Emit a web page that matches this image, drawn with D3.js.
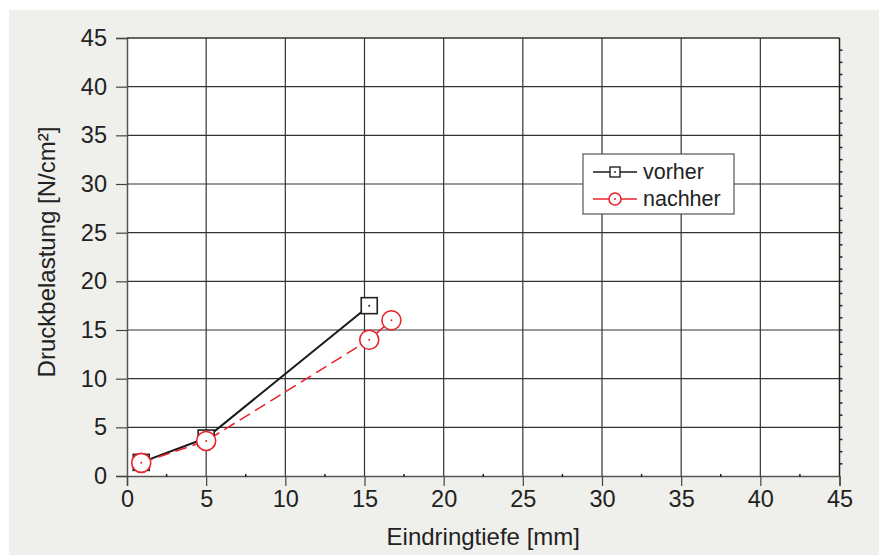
<!DOCTYPE html>
<html>
<head>
<meta charset="utf-8">
<script src="https://cdn.jsdelivr.net/npm/d3@7"></script>
<style>
  html, body { margin: 0; padding: 0; background: #fff; }
  svg { display: block; font-family: "Liberation Sans", Arial, sans-serif; }
</style>
</head>
<body>
<svg id="chart" width="879" height="555"></svg>
<script>
// series data
var vorherX = [0.9, 5.0, 15.3];
var vorherY = [1.4, 3.9, 17.5];
var nachherX = [0.9, 5.0, 15.3, 16.7];
var nachherY = [1.35, 3.6, 14.0, 16.0];

var xTicks = [0, 5, 10, 15, 20, 25, 30, 35, 40, 45];
var yTicks = [0, 5, 10, 15, 20, 25, 30, 35, 40, 45];
var seriesNames = ['vorher', 'nachher'];

var W = 879, H = 555;
var margin = {left: 127, top: 38, right: 879 - 839.5, bottom: 555 - 476};
var red = '#e8232b';
var ink = '#222';

var svg = d3.select('#chart');

// grey panel
svg.append('rect')
	.attr('x', 9).attr('y', 10)
	.attr('width', W - 9).attr('height', H - 10)
	.attr('fill', '#efefeb');

var x = d3.scaleLinear().domain([0, 45]).range([margin.left, W - margin.right]);
var y = d3.scaleLinear().domain([0, 45]).range([H - margin.bottom, margin.top]);

// plot area
svg.append('rect')
	.attr('x', x(0)).attr('y', y(45))
	.attr('width', x(45) - x(0)).attr('height', y(0) - y(45))
	.attr('fill', '#fff');

// grid
var grid = svg.append('g').attr('stroke', '#333').attr('stroke-width', 1.2);
grid.selectAll('line.v').data(xTicks.slice(1, -1)).join('line')
	.attr('x1', function(d) { return x(d); }).attr('x2', function(d) { return x(d); })
	.attr('y1', y(0)).attr('y2', y(45));
grid.selectAll('line.h').data(yTicks.slice(1, -1)).join('line')
	.attr('y1', function(d) { return y(d); }).attr('y2', function(d) { return y(d); })
	.attr('x1', x(0)).attr('x2', x(45));

// axes
var xAxis = svg.append('g')
	.attr('transform', 'translate(0,' + y(0) + ')')
	.call(d3.axisBottom(x).tickValues(xTicks).tickSize(10).tickPadding(4));
var yAxis = svg.append('g')
	.attr('transform', 'translate(' + x(0) + ',0)')
	.call(d3.axisLeft(y).tickValues(yTicks).tickSize(11).tickPadding(9));
[xAxis, yAxis].forEach(function(a) {
	a.select('.domain').attr('stroke', '#555').attr('stroke-width', 1.5);
	a.selectAll('.tick line').attr('stroke', '#444').attr('stroke-width', 1.2);
	a.selectAll('.tick text')
		.attr('fill', ink)
		.attr('font-size', 23.5)
		.attr('font-family', '"Liberation Sans", Arial, sans-serif');
});

// top and right frame
svg.append('line')
	.attr('x1', x(0)).attr('x2', x(45)).attr('y1', y(45)).attr('y2', y(45))
	.attr('stroke', '#333').attr('stroke-width', 1.5);
svg.append('line')
	.attr('x1', x(45)).attr('x2', x(45)).attr('y1', y(45)).attr('y2', y(0))
	.attr('stroke', '#222').attr('stroke-width', 1.5);

// minor ticks (inside, small)
var minor = svg.append('g').attr('stroke', '#222').attr('stroke-width', 1.5);
minor.selectAll('line.mx').data(d3.range(2.5, 45, 5)).join('line')
	.attr('x1', function(d) { return x(d); }).attr('x2', function(d) { return x(d); })
	.attr('y1', y(0) - 2).attr('y2', y(0) + 1);
minor.selectAll('line.my').data(d3.range(1.25, 45, 1.25)).join('line')
	.attr('y1', function(d) { return y(d); }).attr('y2', function(d) { return y(d); })
	.attr('x1', x(45)).attr('x2', x(45) + 3);

// axis titles
svg.append('text')
	.attr('x', (x(0) + x(45)) / 2).attr('y', 545)
	.attr('text-anchor', 'middle')
	.attr('font-size', 24).attr('fill', ink)
	.text('Eindringtiefe [mm]');
svg.append('text')
	.attr('transform', 'translate(55,252) rotate(-90)')
	.attr('text-anchor', 'middle')
	.attr('font-size', 24).attr('fill', ink)
	.text('Druckbelastung [N/cm²]');

// series
var vData = vorherX.map(function(d, i) { return [d, vorherY[i]]; });
var nData = nachherX.map(function(d, i) { return [d, nachherY[i]]; });
var line = d3.line().x(function(d) { return x(d[0]); }).y(function(d) { return y(d[1]); });

svg.append('path').datum(vData).attr('d', line)
	.attr('fill', 'none').attr('stroke', '#1a1a1a').attr('stroke-width', 2);
svg.append('path').datum(nData).attr('d', line)
	.attr('fill', 'none').attr('stroke', red).attr('stroke-width', 1.6)
	.attr('stroke-dasharray', '12,6');

function squareMarker(g, cx, cy, s) {
	g.append('rect')
		.attr('x', cx - s / 2).attr('y', cy - s / 2)
		.attr('width', s).attr('height', s)
		.attr('fill', '#fff').attr('stroke', '#222').attr('stroke-width', 1.6);
	g.append('circle').attr('cx', cx).attr('cy', cy).attr('r', 1).attr('fill', '#222');
}
function circleMarker(g, cx, cy, r) {
	g.append('circle').attr('cx', cx).attr('cy', cy).attr('r', r)
		.attr('fill', '#fff').attr('stroke', red).attr('stroke-width', 1.6);
	g.append('circle').attr('cx', cx).attr('cy', cy).attr('r', 1).attr('fill', red);
}

var marks = svg.append('g');
vData.forEach(function(d) { squareMarker(marks, x(d[0]), y(d[1]), 16); });
nData.forEach(function(d) { circleMarker(marks, x(d[0]), y(d[1]), 9.5); });

// legend
var lg = svg.append('g');
lg.append('rect')
	.attr('x', 583).attr('y', 154).attr('width', 151).attr('height', 60)
	.attr('fill', '#fff').attr('stroke', '#555').attr('stroke-width', 1.2);
seriesNames.forEach(function(name, i) {
	var cy = 172 + i * 27;
	var isRed = i === 1;
	lg.append('line')
		.attr('x1', 593).attr('x2', 637).attr('y1', cy).attr('y2', cy)
		.attr('stroke', isRed ? red : '#1a1a1a').attr('stroke-width', 1.6);
	if (isRed) {
		circleMarker(lg, 615, cy, 6);
	} else {
		lg.append('rect').attr('x', 610).attr('y', cy - 5).attr('width', 10).attr('height', 10)
			.attr('fill', '#fff').attr('stroke', '#222').attr('stroke-width', 1.4);
		lg.append('circle').attr('cx', 615).attr('cy', cy).attr('r', 0.9).attr('fill', '#222');
	}
	lg.append('text')
		.attr('x', 643).attr('y', cy + 7)
		.attr('font-size', 21.5).attr('fill', ink)
		.text(name);
});
</script>
</body>
</html>
